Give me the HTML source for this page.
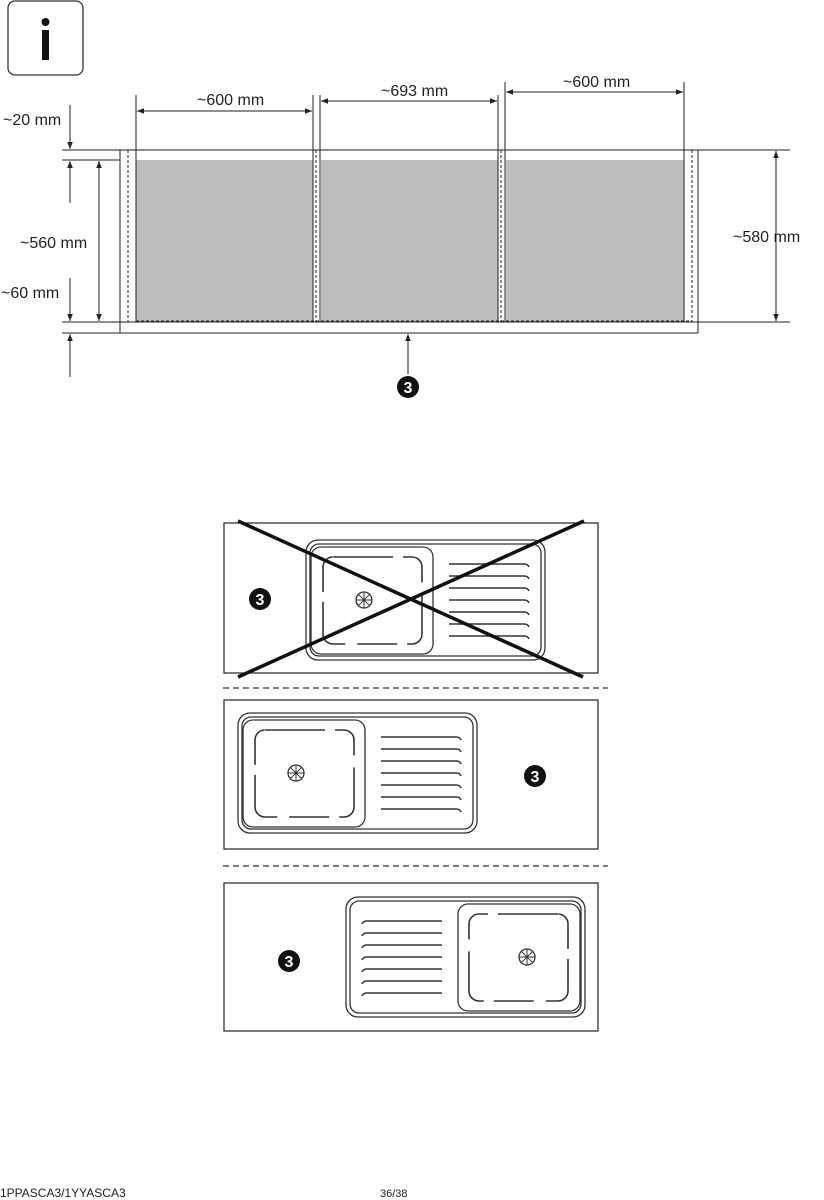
<!DOCTYPE html>
<html><head><meta charset="utf-8"><style>
html,body{margin:0;padding:0;background:#fff;}
svg{display:block;}
text{font-family:"Liberation Sans",sans-serif;fill:#222;}
</style></head><body>
<svg width="824" height="1200" viewBox="0 0 824 1200" xmlns="http://www.w3.org/2000/svg">
<defs>
<marker id="a" viewBox="0 0 10 10" refX="10" refY="5" markerWidth="7" markerHeight="7" orient="auto-start-reverse"><path d="M0,1 L10,5 L0,9 z" fill="#222"/></marker>
<g id="sink" fill="none" stroke="#333" stroke-width="1.3">
<rect x="0" y="0" width="239" height="120" rx="12"/>
<rect x="4" y="4" width="231" height="112" rx="9"/>
<rect x="5" y="7" width="122" height="107" rx="10"/>
<rect x="17" y="17" width="99" height="87" rx="10" stroke-width="1.6" stroke-dasharray="60 10 40 12"/>
<circle cx="58" cy="60" r="8"/>
<path d="M50,60H66M58,52V68M52.3,54.3L63.7,65.7M63.7,54.3L52.3,65.7" stroke-width="1"/>
<path d="M143,24H218q4,0 5,3M143,36H218q4,0 5,3M143,48H218q4,0 5,3M143,60H218q4,0 5,3M143,72H218q4,0 5,3M143,84H218q4,0 5,3M143,96H218q4,0 5,3" stroke-width="1.6"/>
</g>
</defs>
<!-- info icon -->
<rect x="8" y="1" width="75" height="74" rx="7" fill="none" stroke="#333" stroke-width="1.3"/>
<circle cx="45.5" cy="22" r="4" fill="#111"/>
<rect x="42" y="30" width="7" height="30" fill="#111"/>

<!-- grey fills -->
<rect x="136" y="160" width="177" height="162" fill="#bdbdbd"/>
<rect x="321" y="160" width="177" height="162" fill="#bdbdbd"/>
<rect x="506" y="160" width="178" height="162" fill="#bdbdbd"/>

<g stroke="#222" stroke-width="1" fill="none">
<line x1="62" y1="150" x2="790" y2="150"/>
<line x1="62" y1="160" x2="120" y2="160"/>
<line x1="62" y1="322" x2="790" y2="322"/>
<line x1="62" y1="333" x2="698" y2="333"/>
<line x1="120" y1="150" x2="120" y2="333"/>
<line x1="698" y1="150" x2="698" y2="333"/>
<line x1="136" y1="95" x2="136" y2="322"/>
<line x1="313" y1="95" x2="313" y2="322"/>
<line x1="320" y1="95" x2="320" y2="322"/>
<line x1="498" y1="95" x2="498" y2="322"/>
<line x1="505" y1="82" x2="505" y2="322"/>
<line x1="684" y1="82" x2="684" y2="322"/>
<g stroke-dasharray="3 2">
<line x1="128" y1="150" x2="128" y2="322"/>
<line x1="316" y1="150" x2="316" y2="322"/>
<line x1="501" y1="150" x2="501" y2="322"/>
<line x1="692" y1="150" x2="692" y2="322"/>
<line x1="136" y1="321" x2="692" y2="321"/>
</g>
<!-- dims -->
<line x1="137" y1="111" x2="312" y2="111" marker-start="url(#a)" marker-end="url(#a)"/>
<line x1="321" y1="101" x2="497" y2="101" marker-start="url(#a)" marker-end="url(#a)"/>
<line x1="506" y1="92" x2="683" y2="92" marker-start="url(#a)" marker-end="url(#a)"/>
<line x1="70" y1="105" x2="70" y2="149" marker-end="url(#a)"/>
<line x1="70" y1="203" x2="70" y2="161" marker-end="url(#a)"/>
<line x1="99" y1="161" x2="99" y2="321" marker-start="url(#a)" marker-end="url(#a)"/>
<line x1="70" y1="278" x2="70" y2="321" marker-end="url(#a)"/>
<line x1="70" y1="377" x2="70" y2="334" marker-end="url(#a)"/>
<line x1="776" y1="151" x2="776" y2="321" marker-start="url(#a)" marker-end="url(#a)"/>
<line x1="408" y1="374" x2="408" y2="334" marker-end="url(#a)"/>
</g>
<g font-size="16">
<text x="197" y="105">~600 mm</text>
<text x="381" y="96">~693 mm</text>
<text x="563" y="87">~600 mm</text>
<text x="3" y="125">~20 mm</text>
<text x="20" y="248">~560 mm</text>
<text x="1" y="298">~60 mm</text>
<text x="733" y="242">~580 mm</text>
</g>
<circle cx="408" cy="387" r="11" fill="#111"/>
<text x="408" y="393" font-size="16" font-weight="bold" text-anchor="middle" style="fill:#fff">3</text>

<!-- panels -->
<g stroke="#333" stroke-width="1.3" fill="none">
<rect x="224" y="523" width="374" height="150"/>
<rect x="224" y="700" width="374" height="149"/>
<rect x="224" y="883" width="374" height="148"/>
<line x1="223" y1="688" x2="608" y2="688" stroke-dasharray="6 4"/>
<line x1="223" y1="866" x2="608" y2="866" stroke-dasharray="6 4"/>
</g>
<use href="#sink" transform="translate(306,540)"/>
<use href="#sink" transform="translate(238,713)"/>
<use href="#sink" transform="translate(585,897) scale(-1,1)"/>
<line x1="238" y1="521" x2="583" y2="677" stroke="#111" stroke-width="3.5"/>
<line x1="238" y1="677" x2="584" y2="521" stroke="#111" stroke-width="3.5"/>
<g font-size="16" font-weight="bold" text-anchor="middle">
<circle cx="260" cy="599" r="11" fill="#111"/><text x="260" y="605" style="fill:#fff">3</text>
<circle cx="535" cy="776" r="11" fill="#111"/><text x="535" y="782" style="fill:#fff">3</text>
<circle cx="289" cy="961" r="11" fill="#111"/><text x="289" y="967" style="fill:#fff">3</text>
</g>
<text x="0" y="1197" font-size="12">1PPASCA3/1YYASCA3</text>
<text x="380" y="1197" font-size="11">36/38</text>
</svg>
</body></html>
